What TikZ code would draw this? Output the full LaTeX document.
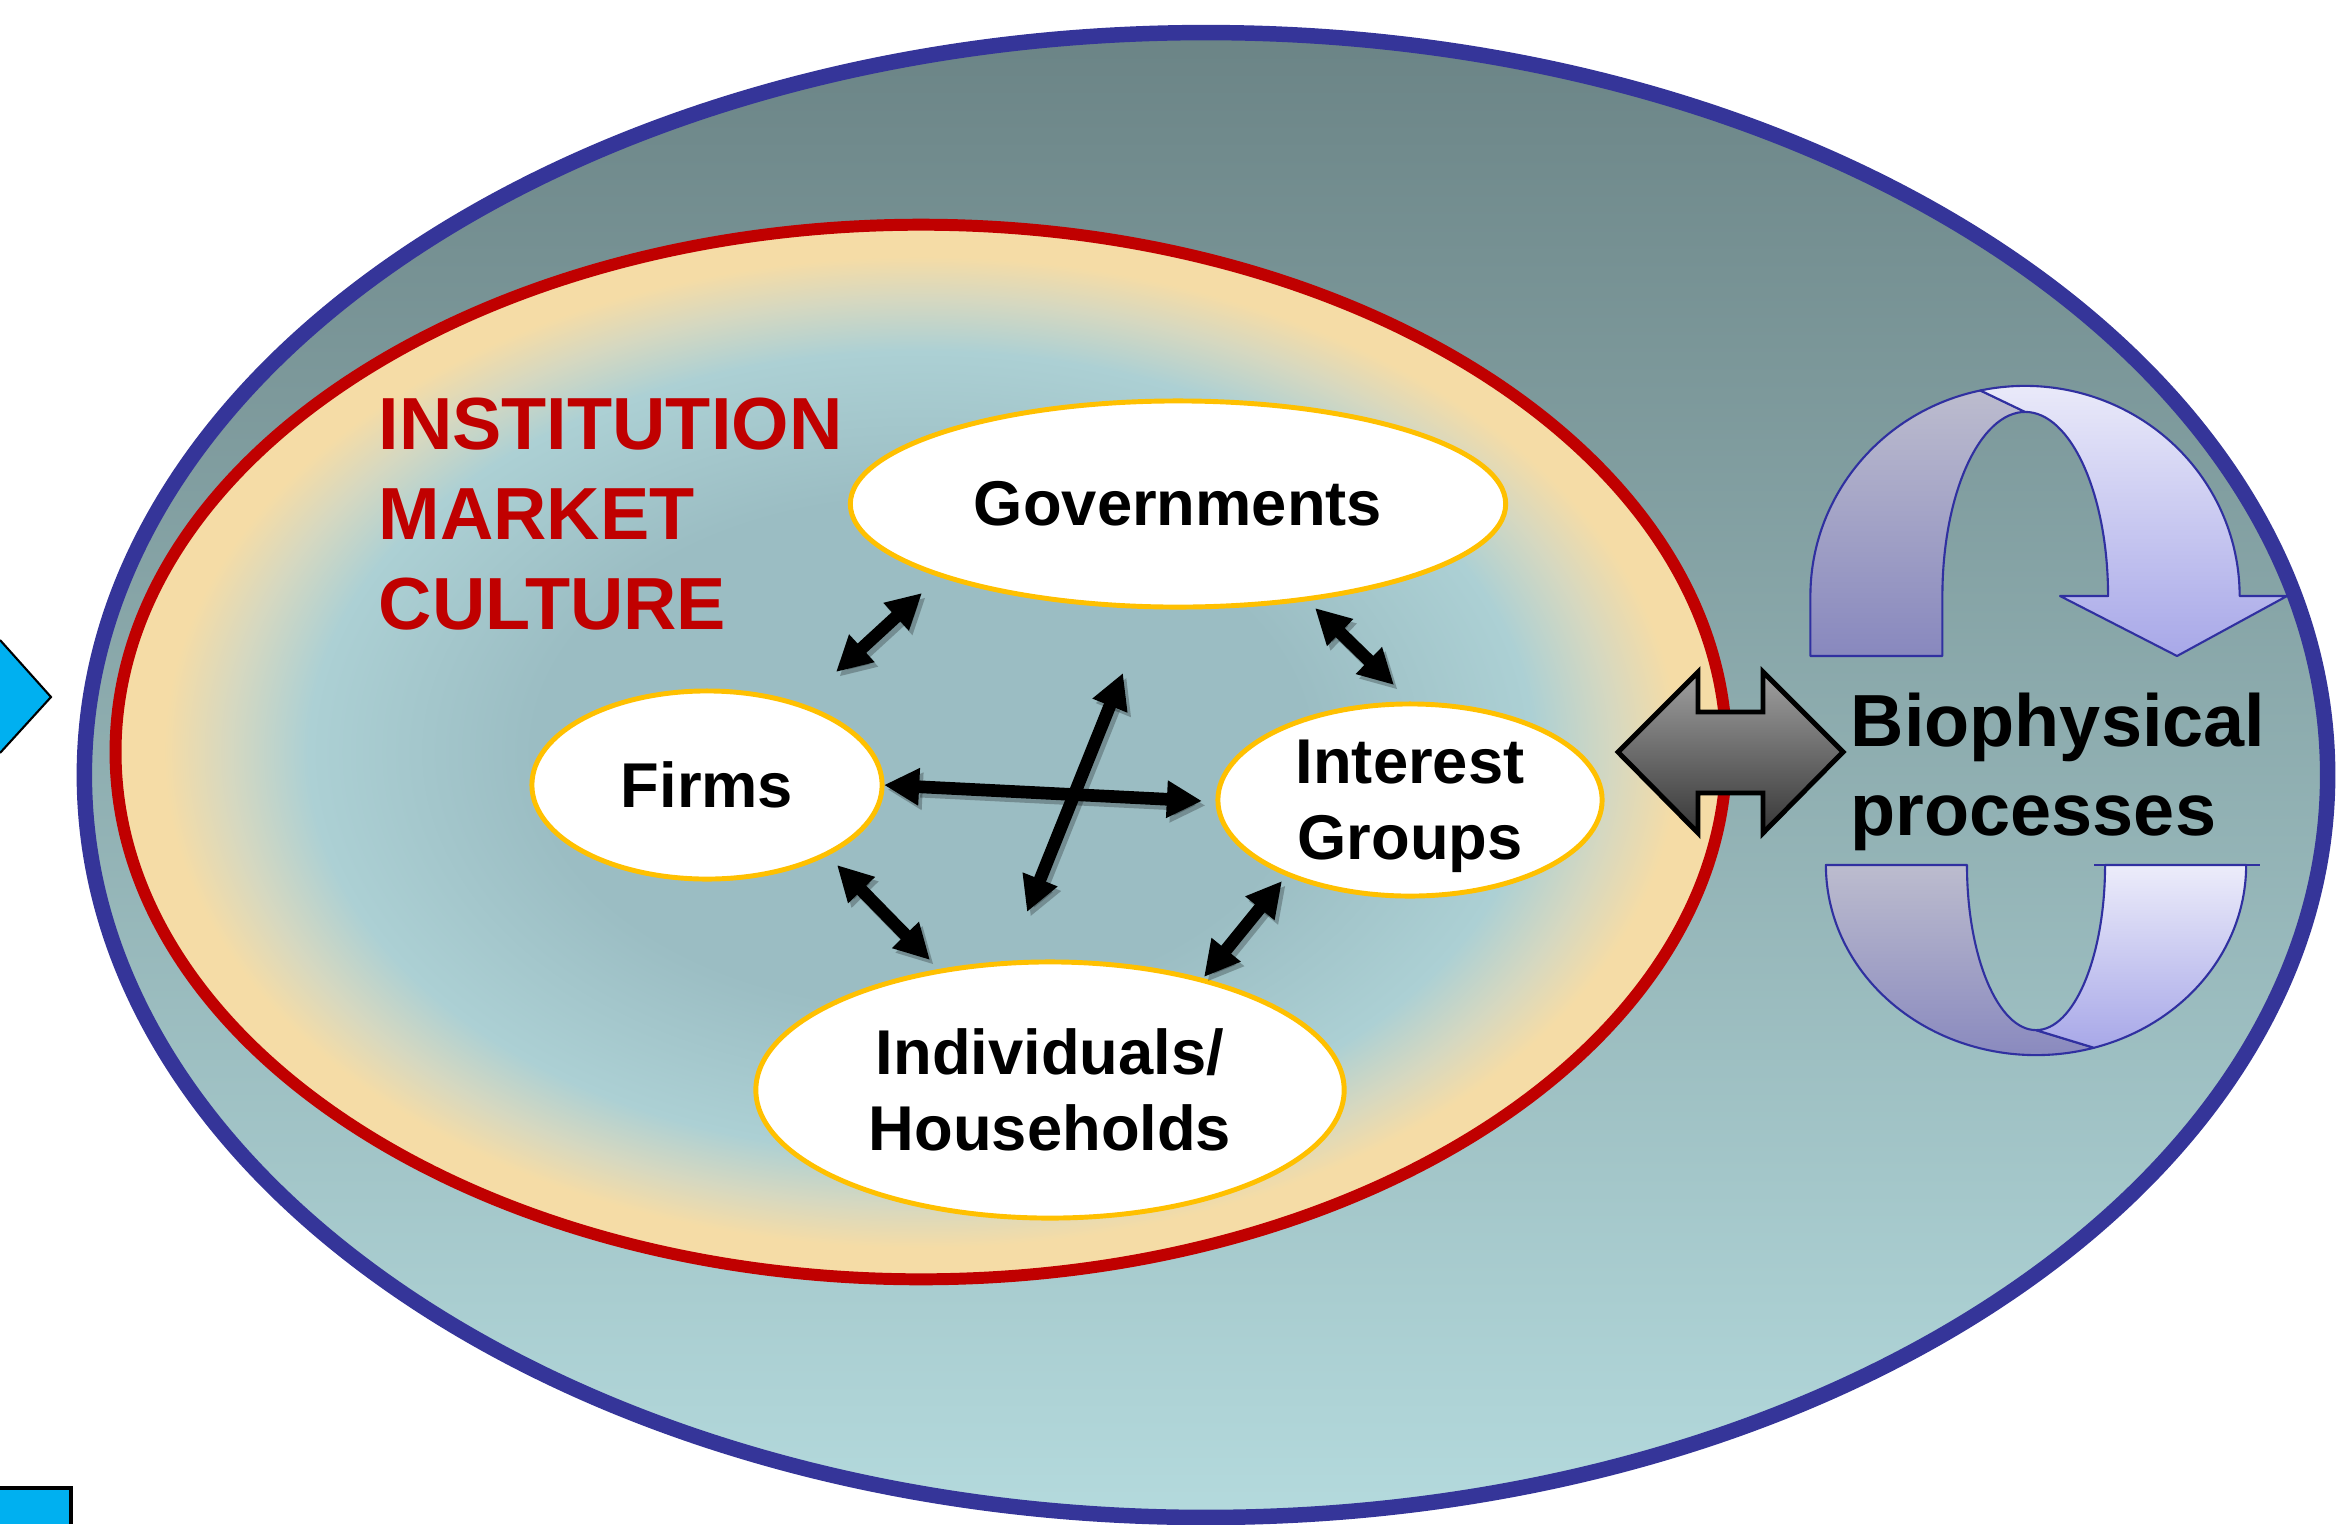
\documentclass[tikz,border=0pt]{standalone}
\usepackage{fontspec}
\setmainfont{Liberation Sans}
\usetikzlibrary{arrows.meta,shapes.geometric,calc}

\definecolor{rimblue}{RGB}{53,53,153}
\definecolor{rimred}{RGB}{192,0,0}
\definecolor{actorline}{RGB}{255,192,0}
\definecolor{skytop}{RGB}{107,132,134}
\definecolor{skybottom}{RGB}{180,218,221}
\definecolor{coremid}{RGB}{155,189,195}
\definecolor{corering}{RGB}{172,208,212}
\definecolor{coremix}{RGB}{214,216,192}
\definecolor{corecream}{RGB}{245,220,166}
\definecolor{ribbonline}{RGB}{48,48,160}
\definecolor{ribbondarktop}{RGB}{188,188,206}
\definecolor{ribbondarkbottom}{RGB}{136,136,190}
\definecolor{ribbonlighttop}{RGB}{236,236,250}
\definecolor{ribbonlightbottom}{RGB}{168,168,232}
\definecolor{marker}{RGB}{0,176,240}
\definecolor{steeltop}{RGB}{160,160,160}
\definecolor{steelbottom}{RGB}{55,55,55}

% soft cream rim inside the red boundary
\pgfdeclareradialshading{coreglow}{\pgfpoint{0bp}{0bp}}{%
  color(0bp)=(coremid); color(12bp)=(coremid); color(19bp)=(corering);
  color(21.5bp)=(coremix); color(23.5bp)=(corecream);
  color(25bp)=(corecream); color(50bp)=(corecream)}

\tikzset{
  actor/.style={ellipse, draw=actorline, line width=1.4pt, fill=white,
    inner sep=0pt, align=center, font=\bfseries\fontsize{18}{21.6}\selectfont},
  relation/.style={line width=3.6pt,
    arrows={Triangle[length=10pt,width=10pt]-Triangle[length=10pt,width=10pt]}},
  relshadow/.style={relation, black, opacity=0.25,
    transform canvas={shift={(0.035cm,-0.045cm)}}},
  ribbon/.style={draw=ribbonline, line width=0.6pt, line join=round},
}

\begin{document}
\begin{tikzpicture}[x=0.01cm, y=-0.01cm]
\useasboundingbox (0,0) rectangle (2340,1524);

% markers at the left edge
\fill[marker] (0,640) -- (51,697) -- (0,753) -- cycle;
\draw[line width=0.6pt] (0,640) -- (51,697) -- (0,753);
\fill[marker] (0,1488) rectangle (71,1524);
\draw[line width=1.1pt] (0,1488) -- (71,1488) -- (71,1524);

% environment
\path[draw=rimblue, line width=4.4pt, top color=skytop, bottom color=skybottom]
  (1206,775) ellipse [x radius=11.21cm, y radius=7.42cm];

% institutions
\shadedraw[shading=coreglow, draw=rimred, line width=3.4pt]
  (921,752) ellipse [x radius=8.05cm, y radius=5.27cm];

\node[anchor=west, inner sep=0pt, align=left, text=rimred,
      font=\bfseries\fontsize{21}{25.6}\selectfont] (frame) at (378,514)
  {INSTITUTION\\MARKET\\CULTURE};

% actors
\node[actor, minimum width=6.55cm, minimum height=2.06cm] (gov) at (1178,504) {Governments};
\node[actor, minimum width=3.50cm, minimum height=1.88cm] (firms) at (707,785) {Firms};
\node[actor, minimum width=3.84cm, minimum height=1.92cm, text depth=0pt] (groups) at (1410,800) {Interest\\Groups};
\node[actor, minimum width=5.88cm, minimum height=2.56cm] (people) at (1050,1090) {Individuals/\\Households};

% relation end points
\coordinate (gf1) at (922,593);  \coordinate (gf2) at (836,672);
\coordinate (gi1) at (1315,608); \coordinate (gi2) at (1394,685);
\coordinate (fi1) at (884,785);  \coordinate (fi2) at (1202,801);
\coordinate (gp1) at (1123,673); \coordinate (gp2) at (1027,912);
\coordinate (fp1) at (837,865);  \coordinate (fp2) at (930,960);
\coordinate (ip1) at (1282,881); \coordinate (ip2) at (1204,977);

\foreach \a/\b in {gf1/gf2, gi1/gi2, fi1/fi2, gp1/gp2, fp1/fp2, ip1/ip2}
  \draw[relshadow] (\a) -- (\b);
\foreach \a/\b in {gf1/gf2, gi1/gi2, fi1/fi2, gp1/gp2, fp1/fp2, ip1/ip2}
  \draw[relation] (\a) -- (\b);

% exchange with the biophysical side
\draw[line width=1.4pt, line join=miter, top color=steeltop, bottom color=steelbottom]
  (1618,752) -- (1698,672) -- (1698,712) -- (1763,712) -- (1763,672)
  -- (1843,752) -- (1763,833) -- (1763,793) -- (1698,793) -- (1698,833) -- cycle;

% circular ribbons
\coordinate (up) at (2025,596);
\coordinate (lo) at (2036,865);

\draw[ribbon, top color=ribbondarktop, bottom color=ribbondarkbottom]
  ($(up)+(102:2.145cm and 2.10cm)$)
  arc[start angle=102, end angle=180, x radius=2.145cm, y radius=2.10cm]
  -- ++(0,60) -- ++(132,0) -- ++(0,-60)
  arc[start angle=180, end angle=90, x radius=0.83cm, y radius=1.84cm] -- cycle;

\draw[ribbon, top color=ribbonlighttop, bottom color=ribbonlightbottom]
  ($(up)+(102:2.145cm and 2.10cm)$)
  arc[start angle=102, end angle=0, x radius=2.145cm, y radius=2.10cm]
  -- (2287,596) -- (2177,656) -- (2060,596) -- ($(up)+(0.83cm,0)$)
  arc[start angle=0, end angle=90, x radius=0.83cm, y radius=1.84cm] -- cycle;

\draw[ribbon, top color=ribbondarktop, bottom color=ribbondarkbottom]
  ($(lo)+(-2.10cm,0)$)
  arc[start angle=180, end angle=286, x radius=2.10cm, y radius=1.90cm]
  -- ($(lo)+(0,-1.65cm)$)
  arc[start angle=270, end angle=180, x radius=0.69cm, y radius=1.65cm] -- cycle;

\draw[ribbon, top color=ribbonlighttop, bottom color=ribbonlightbottom]
  ($(lo)+(0,-1.65cm)$) -- ($(lo)+(286:2.10cm and 1.90cm)$)
  arc[start angle=286, end angle=360, x radius=2.10cm, y radius=1.90cm]
  -- ($(lo)+(0.69cm,0)$)
  arc[start angle=0, end angle=-90, x radius=0.69cm, y radius=1.65cm] -- cycle;
\draw[ribbon] ($(lo)+(0.58cm,0)$) -- ($(lo)+(2.24cm,0)$);

\node[anchor=west, inner sep=0pt, align=left,
      font=\bfseries\fontsize{21}{25.3}\selectfont] (bio) at (1850,772)
  {Biophysical\\processes};
\end{tikzpicture}
\end{document}
